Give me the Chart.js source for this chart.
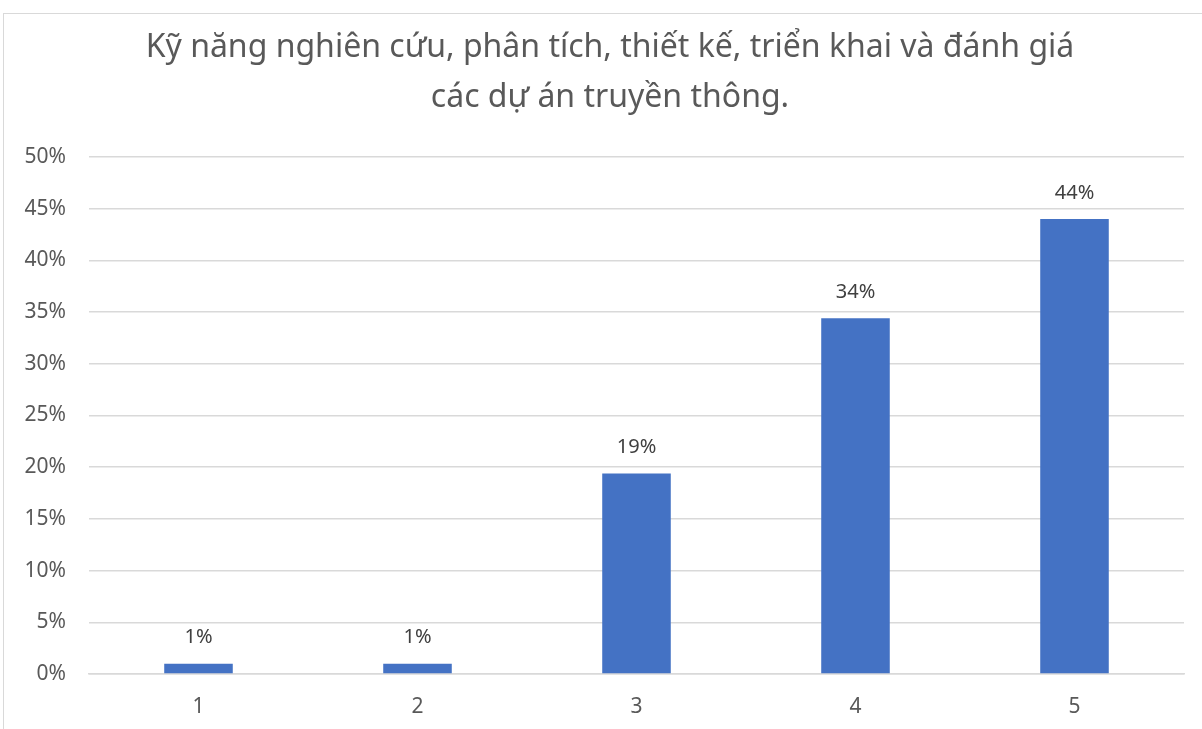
<!DOCTYPE html>
<html>
<head>
<meta charset="utf-8">
<script src="https://cdn.jsdelivr.net/npm/chart.js@4/dist/chart.umd.min.js"></script>
<style>
  html, body { margin: 0; padding: 0; background: #fff; overflow: hidden; }
  #frame { position: absolute; left: 3px; top: 13px; width: 1300px; height: 800px; border: 1px solid #d9d9d9; box-sizing: border-box; }
  #wrap { position: absolute; left: 0; top: 0; width: 1202px; height: 729px; }
</style>
</head>
<body>
<div id="frame"></div>
<div id="wrap"><canvas id="c"></canvas></div>
<script>
const categories = ["1", "2", "3", "4", "5"];
const values = [1.0, 1.0, 19.4, 34.4, 44.0];
const titleLines = ["Kỹ năng nghiên cứu, phân tích, thiết kế, triển khai và đánh giá", "các dự án truyền thông."];
const yTicks = [0, 5, 10, 15, 20, 25, 30, 35, 40, 45, 50];

const FONT = "'Noto Sans', 'Open Sans', sans-serif";

const customTitle = {
  id: 'customTitle',
  afterDraw(chart) {
    const ctx = chart.ctx;
    ctx.save();
    ctx.font = "32px " + FONT;
    ctx.fillStyle = "#595959";
    ctx.textAlign = "center";
    ctx.textBaseline = "middle";
    titleLines.forEach((t, i) => ctx.fillText(t, 610, 48 + i * 50));
    ctx.restore();
  }
};

const barLabels = {
  id: 'barLabels',
  afterDatasetsDraw(chart) {
    const ctx = chart.ctx;
    const meta = chart.getDatasetMeta(0);
    ctx.save();
    ctx.font = "20px " + FONT;
    ctx.fillStyle = "#404040";
    ctx.textAlign = "center";
    ctx.textBaseline = "middle";
    meta.data.forEach((bar, i) => {
      ctx.fillText(Math.round(values[i]) + "%", bar.x, bar.y - 26);
    });
    ctx.restore();
  }
};

new Chart(document.getElementById('c'), {
  type: 'bar',
  data: {
    labels: categories,
    datasets: [{
      data: values,
      backgroundColor: '#4472C4',
      borderWidth: 0,
      categoryPercentage: 1,
      barPercentage: 0.313
    }]
  },
  options: {
    responsive: true,
    maintainAspectRatio: false,
    animation: false,
    layout: { padding: { left: 0, right: 18, top: 157, bottom: 0 } },
    plugins: {
      legend: { display: false },
      tooltip: { enabled: false },
      title: { display: false }
    },
    scales: {
      x: {
        grid: { display: false, drawTicks: false },
        border: { display: true, color: '#d9d9d9', width: 1.5 },
        ticks: { color: '#595959', font: { family: FONT, size: 21 }, padding: 20 },
        afterFit(scale) { scale.height = 55; }
      },
      y: {
        min: 0, max: 50,
        afterBuildTicks(scale) { scale.ticks = yTicks.map(v => ({ value: v })); },
        grid: { color: '#d9d9d9', lineWidth: 1.5, drawTicks: false },
        border: { display: false },
        ticks: {
          color: '#595959',
          font: { family: FONT, size: 21 },
          padding: 23,
          callback: v => v + '%'
        },
        afterFit(scale) { scale.width = 89; }
      }
    }
  },
  plugins: [barLabels, customTitle]
});
</script>
</body>
</html>
